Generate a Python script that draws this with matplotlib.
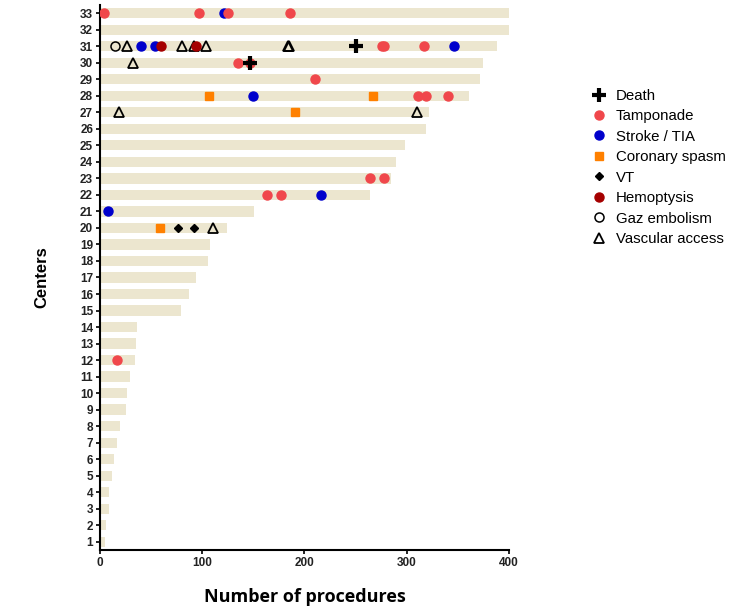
import matplotlib
matplotlib.use("Agg")
import matplotlib.pyplot as plt
from matplotlib.lines import Line2D

# Number of procedures per center (centers 1..33)
centers = list(range(1, 34))
procedures = [4.5, 6, 8.5, 9, 12, 14, 17, 20, 25, 26, 29, 34, 35, 36,
              79, 87, 93.5, 105.5, 108, 124, 151, 264, 285, 290, 298, 319,
              322, 361, 372, 375, 388, 400, 400]

# Complications: center and procedure index of each event
death_center = [30, 31]
death_proc = [147, 250]

tamponade_center = [33, 33, 33, 33, 31, 31, 31, 30, 30, 29, 28, 28, 28, 23, 23, 22, 22, 12]
tamponade_proc = [4, 97, 125, 186, 276, 278, 317, 134.5, 147, 210, 311, 319, 340.5, 264, 278, 163.5, 177, 17]

stroke_center = [33, 31, 31, 31, 28, 22, 21]
stroke_proc = [121, 40, 54, 346, 150, 216.5, 8]

spasm_center = [28, 28, 27, 20]
spasm_proc = [106.5, 267.5, 190.5, 59]

vt_center = [20, 20]
vt_proc = [76, 91.5]

hemoptysis_center = [31, 31]
hemoptysis_proc = [60, 93.5]

gaz_center = [31]
gaz_proc = [15]

vascular_center = [31, 31, 31, 31, 31, 31, 30, 27, 27, 20]
vascular_proc = [26, 80.5, 92, 103.5, 183.5, 185, 32, 19, 310, 110.5]

plt.rcParams['font.family'] = ['Liberation Sans', 'DejaVu Sans']

fig = plt.figure(figsize=(7.49, 6.09), dpi=100)
ax = fig.add_axes([0.1335, 0.0969, 0.546, 0.8949])

ax.barh(centers, procedures, height=0.62, color='#ECE6CF', zorder=1)

ms = 6.5
ax.plot(vascular_proc, vascular_center, linestyle='none', marker='^', markersize=6.5,
        markerfacecolor='none', markeredgecolor='black', markeredgewidth=1.3, zorder=3)
ax.plot(gaz_proc, gaz_center, linestyle='none', marker='o', markersize=ms,
        markerfacecolor='none', markeredgecolor='black', markeredgewidth=1.1, zorder=3)
ax.plot(stroke_proc, stroke_center, linestyle='none', marker='o', markersize=ms,
        color='#0000CC', zorder=4)
ax.plot(tamponade_proc, tamponade_center, linestyle='none', marker='o', markersize=ms,
        color='#F0474B', zorder=5)
ax.plot(hemoptysis_proc, hemoptysis_center, linestyle='none', marker='o', markersize=ms,
        color='#A50000', zorder=6)
ax.plot(spasm_proc, spasm_center, linestyle='none', marker='s', markersize=6,
        color='#FF8000', zorder=4)
ax.plot(vt_proc, vt_center, linestyle='none', marker='D', markersize=4.5,
        color='black', zorder=4)
ax.plot(death_proc, death_center, linestyle='none', marker='+', markersize=10,
        markeredgewidth=3, color='black', zorder=7)

ax.set_xlim(0, 400)
ax.set_ylim(0.5, 33.5)
ax.set_xticks([0, 100, 200, 300, 400])
ax.set_yticks(centers)
ax.tick_params(axis='both', direction='out', length=3, width=1.2, labelsize=8.5, pad=2)
for lbl in ax.get_xticklabels() + ax.get_yticklabels():
    lbl.set_fontweight('bold')
    lbl.set_color('#222222')
for side in ('top', 'right'):
    ax.spines[side].set_visible(False)
for side in ('left', 'bottom'):
    ax.spines[side].set_linewidth(1.5)

ax.set_xlabel('Number of procedures', fontsize=13, fontweight='bold',
              family=['Open Sans', 'DejaVu Sans'], labelpad=14)
ax.set_ylabel('Centers', fontsize=12, fontweight='bold', labelpad=22)

handles = [
    Line2D([], [], linestyle='none', marker='+', markersize=10, markeredgewidth=3, color='black'),
    Line2D([], [], linestyle='none', marker='o', markersize=ms, color='#F0474B'),
    Line2D([], [], linestyle='none', marker='o', markersize=ms, color='#0000CC'),
    Line2D([], [], linestyle='none', marker='s', markersize=6, color='#FF8000'),
    Line2D([], [], linestyle='none', marker='D', markersize=4.5, color='black'),
    Line2D([], [], linestyle='none', marker='o', markersize=ms, color='#A50000'),
    Line2D([], [], linestyle='none', marker='o', markersize=ms, markerfacecolor='none',
           markeredgecolor='black', markeredgewidth=1.1),
    Line2D([], [], linestyle='none', marker='^', markersize=6.5, markerfacecolor='none',
           markeredgecolor='black', markeredgewidth=1.3),
]
labels = ['Death', 'Tamponade', 'Stroke / TIA', 'Coronary spasm', 'VT',
          'Hemoptysis', 'Gaz embolism', 'Vascular access']
fig.legend(handles, labels, loc='upper left', bbox_to_anchor=(0.782, 0.864),
           frameon=False, fontsize=10.8, handlelength=1.0, handletextpad=0.6,
           labelspacing=0.43, borderaxespad=0)

fig.savefig('out.png', dpi=100)
